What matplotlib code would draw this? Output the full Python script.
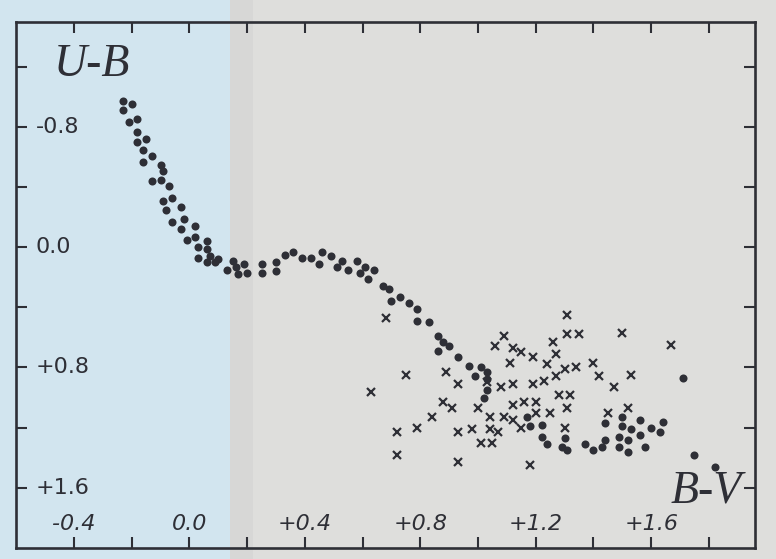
import numpy as np
import matplotlib.pyplot as plt
from matplotlib import font_manager
from matplotlib.patches import Rectangle

# B-V / U-B two-colour diagram (dots and crosses)
dots_bv = [-0.23, -0.20, -0.23, -0.21, -0.18, -0.18, -0.15, -0.18, -0.16, -0.13,
           -0.16, -0.10, -0.09, -0.13, -0.10, -0.07, -0.06, -0.09, -0.08, -0.03,
           -0.06, -0.02, -0.03, 0.02, -0.01, 0.02, 0.06, 0.03, 0.06, 0.03,
           0.07, 0.09, 0.10, 0.06, 0.13, 0.15, 0.16, 0.17, 0.20, 0.19,
           0.25, 0.25, 0.30, 0.30, 0.33, 0.36, 0.39, 0.42, 0.46, 0.45,
           0.49, 0.51, 0.53, 0.55, 0.58, 0.59, 0.61, 0.62, 0.64, 0.67,
           0.69, 0.70, 0.73, 0.76, 0.79, 0.79, 0.83, 0.86, 0.88, 0.86,
           0.90, 0.93, 0.97, 0.99, 1.01, 1.03, 1.03, 1.03, 1.02, 1.17,
           1.18, 1.22, 1.22, 1.24, 1.29, 1.30, 1.31, 1.37, 1.40, 1.43,
           1.44, 1.44, 1.49, 1.49, 1.50, 1.50, 1.52, 1.52, 1.53, 1.56,
           1.56, 1.58, 1.60, 1.63, 1.64, 1.71, 1.75, 1.82]
dots_ub = [-0.97, -0.95, -0.91, -0.83, -0.85, -0.77, -0.72, -0.70, -0.65, -0.61,
           -0.57, -0.55, -0.51, -0.44, -0.45, -0.41, -0.33, -0.31, -0.25, -0.27,
           -0.17, -0.19, -0.12, -0.14, -0.05, -0.07, -0.04, 0.00, 0.01, 0.07,
           0.06, 0.10, 0.08, 0.10, 0.15, 0.09, 0.13, 0.18, 0.17, 0.11,
           0.11, 0.17, 0.16, 0.10, 0.05, 0.03, 0.07, 0.07, 0.03, 0.11,
           0.06, 0.13, 0.09, 0.15, 0.09, 0.17, 0.13, 0.21, 0.15, 0.26,
           0.28, 0.36, 0.33, 0.37, 0.41, 0.49, 0.50, 0.59, 0.63, 0.69,
           0.66, 0.73, 0.79, 0.86, 0.80, 0.83, 0.88, 0.95, 1.00, 1.13,
           1.19, 1.18, 1.26, 1.31, 1.33, 1.27, 1.35, 1.31, 1.35, 1.33,
           1.28, 1.17, 1.26, 1.33, 1.19, 1.13, 1.28, 1.36, 1.21, 1.15,
           1.25, 1.33, 1.20, 1.23, 1.16, 0.87, 1.38, 1.46]

cross_bv = [0.68, 0.63, 0.75, 0.89, 0.93, 0.88, 0.91, 0.84, 1.00, 0.72,
            0.79, 0.93, 0.98, 1.04, 1.09, 1.12, 1.04, 1.07, 1.01, 1.05,
            1.15, 0.72, 0.93, 1.18, 1.09, 1.06, 1.12, 1.15, 1.19, 1.11,
            1.08, 1.12, 1.19, 1.12, 1.16, 1.20, 1.03, 1.31, 1.31, 1.35,
            1.50, 1.67, 1.26, 1.27, 1.24, 1.30, 1.34, 1.40, 1.42, 1.47,
            1.53, 1.27, 1.23, 1.28, 1.32, 1.20, 1.25, 1.31, 1.45, 1.52,
            1.30]
cross_ub = [0.47, 0.96, 0.85, 0.83, 0.91, 1.03, 1.07, 1.13, 1.07, 1.23,
            1.20, 1.23, 1.21, 1.13, 1.13, 1.15, 1.21, 1.23, 1.30, 1.30,
            1.20, 1.38, 1.43, 1.45, 0.59, 0.66, 0.67, 0.70, 0.73, 0.77,
            0.93, 0.91, 0.91, 1.05, 1.03, 1.03, 0.90, 0.45, 0.58, 0.58,
            0.57, 0.65, 0.63, 0.71, 0.78, 0.81, 0.80, 0.77, 0.86, 0.93,
            0.85, 0.86, 0.89, 0.98, 0.98, 1.10, 1.10, 1.07, 1.10, 1.07,
            1.20]

x_ticks = [-0.4, -0.2, 0.0, 0.2, 0.4, 0.6, 0.8, 1.0, 1.2, 1.4, 1.6, 1.8]
x_labels = {-0.4: '-0.4', 0.0: '0.0', 0.4: '+0.4', 0.8: '+0.8', 1.2: '+1.2', 1.6: '+1.6'}
y_ticks = [-1.2, -0.8, -0.4, 0.0, 0.4, 0.8, 1.2, 1.6]
y_labels = {-0.8: '-0.8', 0.0: '0.0', 0.8: '+0.8', 1.6: '+1.6'}

ink = '#2e2f36'
names = {f.name for f in font_manager.fontManager.ttflist}
if 'Liberation Sans Narrow' in names:
    num_font, num_size = 'Liberation Sans Narrow', 18
else:
    num_font, num_size = 'DejaVu Sans', 16

fig = plt.figure(figsize=(7.76, 5.59), dpi=100)
fig.patch.set_facecolor('#dededc')
# bluish left part of the photographed page (behind the axes)
fig.patches.append(Rectangle((0, 0), 0.296, 1, transform=fig.transFigure,
                             facecolor='#d2e5ef', edgecolor='none', zorder=-10))
fig.patches.append(Rectangle((0.296, 0), 0.03, 1, transform=fig.transFigure,
                             facecolor='#d7d7d6', edgecolor='none', zorder=-10))

ax = fig.add_axes([0.021, 0.02, 0.952, 0.941])
ax.set_facecolor('none')

ax.plot(dots_bv, dots_ub, 'o', color=ink, markersize=5.8, markeredgewidth=0)
ax.plot(cross_bv, cross_ub, 'x', color=ink, markersize=5.5, markeredgewidth=1.6)

ax.set_xlim(-0.6, 1.96)
ax.set_ylim(2.0, -1.5)
ax.set_xticks(x_ticks)
ax.set_yticks(y_ticks)
ax.tick_params(direction='in', length=8, width=1.5, color=ink,
               top=True, right=True, labelbottom=False, labelleft=False)
for s in ax.spines.values():
    s.set_linewidth(1.9)
    s.set_color(ink)

for v, t in x_labels.items():
    ax.text(v, 0.046, t, transform=ax.get_xaxis_transform(), ha='center', va='center',
            fontsize=num_size, family=num_font, style='italic', color=ink)
for v, t in y_labels.items():
    ax.text(0.026, v, t, transform=ax.get_yaxis_transform(), ha='left', va='center',
            fontsize=num_size, family=num_font, color=ink)

ax.text(0.103, 0.918, 'U-B', transform=ax.transAxes, ha='center', va='center',
        fontsize=33, family='Liberation Serif', style='italic', color=ink)
ax.text(0.934, 0.108, 'B-V', transform=ax.transAxes, ha='center', va='center',
        fontsize=33, family='Liberation Serif', style='italic', color=ink)

fig.savefig('out.png', dpi=100)
